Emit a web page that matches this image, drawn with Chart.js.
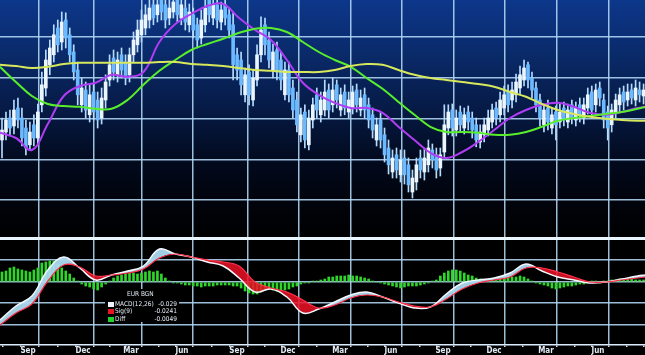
<!DOCTYPE html>
<html>
<head>
<meta charset="utf-8">
<script src="https://cdn.jsdelivr.net/npm/chart.js@4.4.1/dist/chart.umd.min.js"></script>
<style>
  html, body { margin: 0; padding: 0; background: #000; }
  #wrap {
    position: relative; width: 645px; height: 355px; overflow: hidden;
    background: linear-gradient(180deg, #0d378a 0px, #0a2b6c 50px, #061a45 110px, #020a1e 160px, #01040c 200px, #000 240px);
  }
  #top { position: absolute; left: 0; top: 0; }
  #bot { position: absolute; left: 0; top: 235px; }
  #legendBox { position: absolute; left: 105px; top: 289px; width: 74px; height: 33px; background: #000; }
  .lg { position: absolute; font: 6.5px 'DejaVu Sans Condensed', 'DejaVu Sans', sans-serif; color: #e4ecf6; line-height: 7px; white-space: nowrap; }
  .sw { position: absolute; width: 6px; height: 5px; }
</style>
</head>
<body>
<div id="wrap">
  <canvas id="top" width="645" height="238"></canvas>
  <canvas id="bot" width="645" height="120"></canvas>

  <div id="legendBox"></div>
  <div class="lg" style="left:127px; top:291px;">EUR BGN</div>
  <div class="sw" style="left:108px; top:302px; background:#eef4ff;"></div>
  <div class="lg" style="left:115px; top:301px;">MACD(12,26)</div>
  <div class="lg" style="left:150px; top:301px; width:27px; text-align:right;">-0.029</div>
  <div class="sw" style="left:108px; top:309px; background:#e8141f;"></div>
  <div class="lg" style="left:115px; top:308px;">Sig(9)</div>
  <div class="lg" style="left:150px; top:308px; width:27px; text-align:right;">-0.0241</div>
  <div class="sw" style="left:108px; top:317px; background:#22d22a;"></div>
  <div class="lg" style="left:115px; top:316px;">Diff</div>
  <div class="lg" style="left:150px; top:316px; width:27px; text-align:right;">-0.0049</div>
</div>

<script>
// weekly candles, x = week index
const opens = [
  1.3150, 1.3170, 1.3205, 1.3185, 1.3230, 1.3205, 1.3180, 1.3138, 1.3188, 1.3155,
  1.3238, 1.3280, 1.3338, 1.3363, 1.3430, 1.3395, 1.3450, 1.3413, 1.3370, 1.3325,
  1.3238, 1.3275, 1.3213, 1.3270, 1.3250, 1.3205, 1.3250, 1.3300, 1.3355, 1.3313,
  1.3363, 1.3345, 1.3313, 1.3363, 1.3388, 1.3413, 1.3430, 1.3450, 1.3488, 1.3463,
  1.3500, 1.3488, 1.3455, 1.3470, 1.3500, 1.3455, 1.3480, 1.3438, 1.3463, 1.3438,
  1.3405, 1.3438, 1.3500, 1.3455, 1.3488, 1.3445, 1.3488, 1.3463, 1.3438, 1.3363,
  1.3350, 1.3263, 1.3320, 1.3250, 1.3300, 1.3363, 1.3438, 1.3400, 1.3325, 1.3375,
  1.3350, 1.3263, 1.3325, 1.3280, 1.3250, 1.3163, 1.3220, 1.3138, 1.3200, 1.3263,
  1.3213, 1.3225, 1.3275, 1.3238, 1.3288, 1.3225, 1.3270, 1.3220, 1.3230, 1.3275,
  1.3225, 1.3263, 1.3238, 1.3213, 1.3150, 1.3200, 1.3163, 1.3130, 1.3070, 1.3113,
  1.3063, 1.3105, 1.3088, 1.3020, 1.3045, 1.3105, 1.3070, 1.3088, 1.3125, 1.3113,
  1.3080, 1.3120, 1.3180, 1.3225, 1.3175, 1.3220, 1.3180, 1.3220, 1.3205, 1.3188,
  1.3145, 1.3163, 1.3175, 1.3195, 1.3230, 1.3213, 1.3230, 1.3270, 1.3250, 1.3263,
  1.3280, 1.3300, 1.3338, 1.3305, 1.3280, 1.3250, 1.3188, 1.3230, 1.3180, 1.3220,
  1.3195, 1.3230, 1.3195, 1.3238, 1.3200, 1.3238, 1.3205, 1.3230, 1.3270, 1.3238,
  1.3280, 1.3250, 1.3220, 1.3188, 1.3220, 1.3238, 1.3270, 1.3250, 1.3275, 1.3250,
  1.3275, 1.3260
];
const closes = [
  1.3175, 1.3200, 1.3180, 1.3225, 1.3200, 1.3155, 1.3130, 1.3170, 1.3155, 1.3220,
  1.3288, 1.3350, 1.3380, 1.3413, 1.3388, 1.3445, 1.3405, 1.3363, 1.3320, 1.3263,
  1.3280, 1.3225, 1.3263, 1.3220, 1.3200, 1.3255, 1.3295, 1.3338, 1.3320, 1.3350,
  1.3325, 1.3305, 1.3363, 1.3400, 1.3425, 1.3450, 1.3463, 1.3480, 1.3455, 1.3488,
  1.3470, 1.3450, 1.3480, 1.3495, 1.3463, 1.3488, 1.3445, 1.3470, 1.3425, 1.3400,
  1.3450, 1.3480, 1.3463, 1.3488, 1.3450, 1.3475, 1.3455, 1.3425, 1.3338, 1.3325,
  1.3288, 1.3313, 1.3263, 1.3305, 1.3363, 1.3425, 1.3388, 1.3350, 1.3370, 1.3320,
  1.3300, 1.3325, 1.3263, 1.3225, 1.3188, 1.3213, 1.3150, 1.3205, 1.3238, 1.3225,
  1.3250, 1.3270, 1.3225, 1.3275, 1.3250, 1.3263, 1.3230, 1.3250, 1.3270, 1.3238,
  1.3255, 1.3225, 1.3200, 1.3175, 1.3188, 1.3150, 1.3113, 1.3088, 1.3105, 1.3075,
  1.3100, 1.3063, 1.3038, 1.3055, 1.3088, 1.3075, 1.3105, 1.3130, 1.3100, 1.3075,
  1.3113, 1.3188, 1.3220, 1.3180, 1.3205, 1.3188, 1.3213, 1.3195, 1.3175, 1.3150,
  1.3170, 1.3188, 1.3205, 1.3225, 1.3205, 1.3250, 1.3263, 1.3238, 1.3275, 1.3295,
  1.3313, 1.3330, 1.3300, 1.3275, 1.3238, 1.3205, 1.3225, 1.3195, 1.3213, 1.3188,
  1.3220, 1.3200, 1.3225, 1.3205, 1.3230, 1.3213, 1.3238, 1.3263, 1.3225, 1.3275,
  1.3255, 1.3200, 1.3180, 1.3225, 1.3250, 1.3263, 1.3245, 1.3270, 1.3255, 1.3280,
  1.3263, 1.3275
];
const highs = [
  1.3205, 1.3220, 1.3225, 1.3250, 1.3255, 1.3230, 1.3200, 1.3195, 1.3213, 1.3240,
  1.3320, 1.3375, 1.3400, 1.3438, 1.3450, 1.3470, 1.3468, 1.3430, 1.3388, 1.3345,
  1.3305, 1.3295, 1.3288, 1.3290, 1.3270, 1.3280, 1.3313, 1.3363, 1.3375, 1.3370,
  1.3380, 1.3363, 1.3380, 1.3420, 1.3450, 1.3475, 1.3488, 1.3510, 1.3513, 1.3515,
  1.3520, 1.3510, 1.3505, 1.3520, 1.3515, 1.3510, 1.3500, 1.3490, 1.3480, 1.3455,
  1.3475, 1.3505, 1.3520, 1.3513, 1.3508, 1.3495, 1.3505, 1.3480, 1.3468, 1.3380,
  1.3370, 1.3330, 1.3338, 1.3325, 1.3388, 1.3458, 1.3455, 1.3420, 1.3390, 1.3395,
  1.3370, 1.3345, 1.3345, 1.3300, 1.3270, 1.3230, 1.3238, 1.3225, 1.3255, 1.3280,
  1.3270, 1.3300, 1.3290, 1.3305, 1.3300, 1.3280, 1.3288, 1.3270, 1.3285, 1.3290,
  1.3275, 1.3280, 1.3255, 1.3230, 1.3205, 1.3220, 1.3180, 1.3150, 1.3125, 1.3130,
  1.3125, 1.3125, 1.3105, 1.3075, 1.3105, 1.3125, 1.3130, 1.3150, 1.3140, 1.3130,
  1.3130, 1.3238, 1.3238, 1.3240, 1.3225, 1.3235, 1.3230, 1.3235, 1.3220, 1.3205,
  1.3188, 1.3205, 1.3225, 1.3240, 1.3245, 1.3270, 1.3285, 1.3288, 1.3295, 1.3315,
  1.3335, 1.3350, 1.3345, 1.3320, 1.3295, 1.3265, 1.3240, 1.3250, 1.3230, 1.3235,
  1.3240, 1.3245, 1.3240, 1.3250, 1.3245, 1.3255, 1.3255, 1.3280, 1.3285, 1.3290,
  1.3295, 1.3265, 1.3235, 1.3240, 1.3265, 1.3280, 1.3285, 1.3290, 1.3290, 1.3300,
  1.3295, 1.3290
];
const lows = [
  1.3105, 1.3150, 1.3160, 1.3165, 1.3180, 1.3135, 1.3113, 1.3125, 1.3135, 1.3138,
  1.3220, 1.3260, 1.3313, 1.3345, 1.3370, 1.3375, 1.3380, 1.3345, 1.3300, 1.3238,
  1.3220, 1.3205, 1.3195, 1.3200, 1.3180, 1.3190, 1.3230, 1.3285, 1.3300, 1.3295,
  1.3305, 1.3288, 1.3295, 1.3345, 1.3370, 1.3395, 1.3413, 1.3430, 1.3438, 1.3445,
  1.3450, 1.3430, 1.3438, 1.3455, 1.3445, 1.3438, 1.3425, 1.3420, 1.3405, 1.3380,
  1.3390, 1.3420, 1.3445, 1.3438, 1.3430, 1.3425, 1.3438, 1.3405, 1.3300, 1.3300,
  1.3263, 1.3245, 1.3238, 1.3235, 1.3285, 1.3345, 1.3363, 1.3330, 1.3305, 1.3300,
  1.3275, 1.3250, 1.3245, 1.3205, 1.3170, 1.3145, 1.3130, 1.3125, 1.3180, 1.3205,
  1.3195, 1.3210, 1.3205, 1.3220, 1.3230, 1.3210, 1.3213, 1.3205, 1.3215, 1.3220,
  1.3210, 1.3205, 1.3180, 1.3155, 1.3135, 1.3130, 1.3095, 1.3065, 1.3055, 1.3055,
  1.3045, 1.3040, 1.3020, 1.3005, 1.3025, 1.3055, 1.3050, 1.3070, 1.3080, 1.3055,
  1.3060, 1.3105, 1.3163, 1.3160, 1.3160, 1.3170, 1.3165, 1.3175, 1.3155, 1.3133,
  1.3130, 1.3145, 1.3160, 1.3180, 1.3188, 1.3195, 1.3213, 1.3220, 1.3230, 1.3245,
  1.3265, 1.3285, 1.3280, 1.3255, 1.3220, 1.3185, 1.3170, 1.3175, 1.3165, 1.3150,
  1.3180, 1.3185, 1.3180, 1.3190, 1.3185, 1.3195, 1.3190, 1.3215, 1.3205, 1.3220,
  1.3235, 1.3180, 1.3150, 1.3170, 1.3205, 1.3220, 1.3225, 1.3235, 1.3240, 1.3235,
  1.3245, 1.3240
];

// moving averages, sampled every 4 weeks
const maWeeks = [0, 4, 8, 12, 16, 20, 24, 28, 32, 36, 40, 44, 48, 52, 56, 60, 64, 68, 72, 76,
  80, 84, 88, 92, 96, 100, 104, 108, 112, 116, 120, 124, 128, 132, 136, 140, 144, 148, 152, 156, 160, 162];
const maFast = [
  1.3168, 1.3155, 1.3125, 1.3190, 1.3260, 1.3285, 1.3293, 1.3313, 1.3308, 1.3320,
  1.3395, 1.3440, 1.3465, 1.3485, 1.3490, 1.3455, 1.3425, 1.3400, 1.3350, 1.3293,
  1.3263, 1.3243, 1.3230, 1.3230, 1.3218, 1.3183, 1.3150, 1.3118, 1.3105, 1.3120,
  1.3145, 1.3175, 1.3205, 1.3225, 1.3238, 1.3243, 1.3233, 1.3218, 1.3213, 1.3220,
  1.3230, 1.3233
];
const maMid = [
  1.3333, 1.3295, 1.3260, 1.3240, 1.3235, 1.3233, 1.3228, 1.3228, 1.3250, 1.3288,
  1.3323, 1.3350, 1.3375, 1.3390, 1.3403, 1.3418, 1.3428, 1.3430, 1.3420, 1.3395,
  1.3370, 1.3350, 1.3333, 1.3305, 1.3278, 1.3245, 1.3213, 1.3183, 1.3170, 1.3170,
  1.3168, 1.3163, 1.3163, 1.3170, 1.3183, 1.3198, 1.3205, 1.3210, 1.3215, 1.3220,
  1.3228, 1.3233
];
const maSlow = [
  1.3338, 1.3335, 1.3330, 1.3333, 1.3340, 1.3343, 1.3343, 1.3343, 1.3343, 1.3343,
  1.3345, 1.3345, 1.3340, 1.3338, 1.3335, 1.3330, 1.3325, 1.3323, 1.3320, 1.3320,
  1.3320, 1.3325, 1.3335, 1.3340, 1.3338, 1.3325, 1.3313, 1.3305, 1.3300, 1.3295,
  1.3290, 1.3283, 1.3270, 1.3258, 1.3240, 1.3225, 1.3215, 1.3208, 1.3203, 1.3200,
  1.3198, 1.3198
];

// MACD panel, same 4-week sampling
const macdLine = [
  -0.038, -0.024, -0.014, 0.012, 0.025, 0.014, 0.002, 0.007, 0.011, 0.016,
  0.033, 0.028, 0.025, 0.020, 0.016, 0.004, -0.010, -0.007, -0.015, -0.031,
  -0.027, -0.020, -0.013, -0.010, -0.015, -0.021, -0.026, -0.025, -0.012, -0.001,
  0.002, 0.004, 0.009, 0.018, 0.011, 0.005, 0.002, -0.001, 0.000, 0.003,
  0.006, 0.007
];
const signalLine = [
  -0.043, -0.031, -0.022, 0.001, 0.017, 0.015, 0.006, 0.007, 0.009, 0.013,
  0.024, 0.028, 0.025, 0.022, 0.020, 0.016, 0.000, -0.006, -0.010, -0.018,
  -0.026, -0.023, -0.016, -0.013, -0.015, -0.020, -0.024, -0.025, -0.017, -0.007,
  -0.001, 0.002, 0.005, 0.014, 0.014, 0.010, 0.005, 0.000, 0.000, 0.002,
  0.004, 0.005
];
// weekly difference bars
const histogram = [
  0.010, 0.011, 0.014, 0.015, 0.013, 0.012, 0.011, 0.010, 0.012, 0.014,
  0.019, 0.020, 0.021, 0.021, 0.018, 0.014, 0.011, 0.008, 0.004, 0.001,
  -0.002, -0.004, -0.005, -0.007, -0.008, -0.005, -0.002, 0.001, 0.004, 0.006,
  0.007, 0.008, 0.009, 0.009, 0.008, 0.009, 0.010, 0.011, 0.010, 0.011,
  0.008, 0.004, 0.001, -0.001, -0.001, -0.002, -0.003, -0.003, -0.004, -0.004,
  -0.005, -0.004, -0.004, -0.004, -0.003, -0.003, -0.003, -0.003, -0.004, -0.004,
  -0.006, -0.009, -0.011, -0.012, -0.012, -0.010, -0.008, -0.007, -0.008, -0.009,
  -0.009, -0.008, -0.007, -0.005, -0.004, -0.002, -0.001, -0.001, 0.001, 0.001,
  0.002, 0.003, 0.005, 0.005, 0.006, 0.006, 0.006, 0.007, 0.006, 0.006,
  0.005, 0.004, 0.003, 0.001, 0.000, -0.001, -0.002, -0.003, -0.004, -0.005,
  -0.006, -0.005, -0.004, -0.004, -0.004, -0.003, -0.002, -0.001, 0.001, 0.002,
  0.006, 0.009, 0.011, 0.012, 0.012, 0.011, 0.009, 0.007, 0.006, 0.004,
  0.003, 0.002, 0.002, 0.002, 0.002, 0.003, 0.004, 0.005, 0.005, 0.005,
  0.006, 0.005, 0.003, 0.001, -0.001, -0.002, -0.003, -0.004, -0.006, -0.007,
  -0.006, -0.005, -0.004, -0.004, -0.003, -0.002, -0.002, -0.001, 0.001, 0.001,
  -0.001, 0.001, 0.001, 0.002, 0.002, 0.003, 0.003, 0.003, 0.003, 0.002,
  0.002, 0.002
];

const quarterWeeks = [9.79, 23.59, 35.63, 48.43, 62.23, 75.03, 88.08, 100.88, 113.93, 126.73, 139.77, 152.82];
const quarterLabels = ['Sep', 'Dec', 'Mar', 'Jun', 'Sep', 'Dec', 'Mar', 'Jun', 'Sep', 'Dec', 'Mar', 'Jun'];
const priceLevels = [1.34075, 1.3305, 1.32025, 1.31, 1.30];
const macdLevels = [0.044, 0.022, 0, -0.021, -0.043];

const X_MAX = 161.86;
const GRID = 'rgba(178,216,246,0.88)';

// month tick marks between the quarter lines
function monthTicks() {
  const q = quarterWeeks;
  const out = [];
  const first = q[1] - q[0];
  out.push({ value: q[0] - first * 2 / 3, name: '' }, { value: q[0] - first / 3, name: '' });
  q.forEach((w, k) => {
    const next = k < q.length - 1 ? q[k + 1] : w + (w - q[k - 1]);
    out.push({ value: w, name: quarterLabels[k] });
    out.push({ value: w + (next - w) / 3, name: '' });
    out.push({ value: w + (next - w) * 2 / 3, name: '' });
  });
  return out.filter(t => t.value > 0 && t.value < X_MAX);
}

new Chart(document.getElementById('top'), {
  type: 'bar',
  data: {
    datasets: [
      {
        type: 'line', label: 'slow', order: 1,
        data: maWeeks.map((w, i) => ({ x: w, y: maSlow[i] })),
        borderColor: '#d8e85c', borderWidth: 2, pointRadius: 0, tension: 0.4
      },
      {
        type: 'line', label: 'mid', order: 1,
        data: maWeeks.map((w, i) => ({ x: w, y: maMid[i] })),
        borderColor: '#58ee2c', borderWidth: 2, pointRadius: 0, tension: 0.4
      },
      {
        type: 'line', label: 'fast', order: 1,
        data: maWeeks.map((w, i) => ({ x: w, y: maFast[i] })),
        borderColor: '#b03cf4', borderWidth: 2, pointRadius: 0, tension: 0.4
      },
      {
        label: 'body', order: 2, grouped: false, barThickness: 3,
        data: opens.map((o, i) => ({ x: i + 0.5, y: [o, closes[i]] })),
        backgroundColor: opens.map((o, i) => closes[i] >= o ? '#eaf6ff' : '#6cbaff')
      },
      {
        label: 'wick', order: 3, grouped: false, barThickness: 1,
        data: lows.map((l, i) => ({ x: i + 0.5, y: [l, highs[i]] })),
        backgroundColor: '#b4dcff'
      }
    ]
  },
  options: {
    responsive: false, animation: false,
    layout: { padding: 0 },
    plugins: { legend: { display: false }, tooltip: { enabled: false } },
    scales: {
      x: {
        type: 'linear', min: 0, max: X_MAX, offset: false,
        afterBuildTicks: s => { s.ticks = quarterWeeks.map(v => ({ value: v })); },
        grid: { color: GRID, lineWidth: 1.5, drawTicks: false, offset: false },
        border: { display: false },
        ticks: { display: false }
      },
      y: {
        min: 1.2905, max: 1.35,
        afterBuildTicks: s => { s.ticks = priceLevels.map(v => ({ value: v })); },
        grid: { color: GRID, lineWidth: 1.5, drawTicks: false },
        border: { display: false },
        ticks: { display: false }
      }
    }
  }
});

new Chart(document.getElementById('bot'), {
  type: 'bar',
  data: {
    datasets: [
      {
        label: 'Diff', order: 3, barThickness: 2,
        data: histogram.map((v, i) => ({ x: i + 0.5, y: v })),
        backgroundColor: '#2fd62a'
      },
      {
        type: 'line', label: 'MACD(12,26)', order: 2,
        data: maWeeks.map((w, i) => ({ x: w, y: macdLine[i] })),
        borderColor: '#f4f8ff', borderWidth: 1.5, pointRadius: 0, tension: 0.4,
        fill: { target: '+1', above: 'rgba(172,218,240,0.95)', below: 'rgba(236,18,38,0.85)' }
      },
      {
        type: 'line', label: 'Sig(9)', order: 1,
        data: maWeeks.map((w, i) => ({ x: w, y: signalLine[i] })),
        borderColor: '#ff3048', borderWidth: 1.2, pointRadius: 0, tension: 0.4
      }
    ]
  },
  options: {
    responsive: false, animation: false,
    layout: { padding: { top: 3, left: 0, right: 0, bottom: 0 } },
    plugins: { legend: { display: false }, tooltip: { enabled: false } },
    scales: {
      x: {
        type: 'linear', min: 0, max: X_MAX, offset: false,
        afterBuildTicks: s => { s.ticks = monthTicks(); },
        grid: {
          offset: false, lineWidth: 1.5, tickLength: 2, tickColor: '#cfe3f5',
          color: c => (c.tick && c.tick.name) ? GRID : 'rgba(0,0,0,0)'
        },
        border: { display: true, color: '#dcecff', width: 1.5 },
        ticks: {
          autoSkip: false, maxRotation: 0, padding: 0, labelOffset: -11,
          color: '#e2eaf4',
          font: { family: "'DejaVu Sans Condensed', 'DejaVu Sans', sans-serif", size: 8, weight: 'bold', lineHeight: 1 },
          callback: (v, i, ticks) => ticks[i].name
        }
      },
      y: {
        min: -0.063, max: 0.044,
        afterBuildTicks: s => { s.ticks = macdLevels.map(v => ({ value: v })); },
        grid: {
          drawTicks: false,
          color: c => c.tick && c.tick.value === 0.044 ? '#eaf6ff' : GRID,
          lineWidth: c => c.tick && c.tick.value === 0.044 ? 3 : 1.5
        },
        border: { display: false },
        ticks: { display: false }
      }
    }
  }
});
</script>
</body>
</html>
